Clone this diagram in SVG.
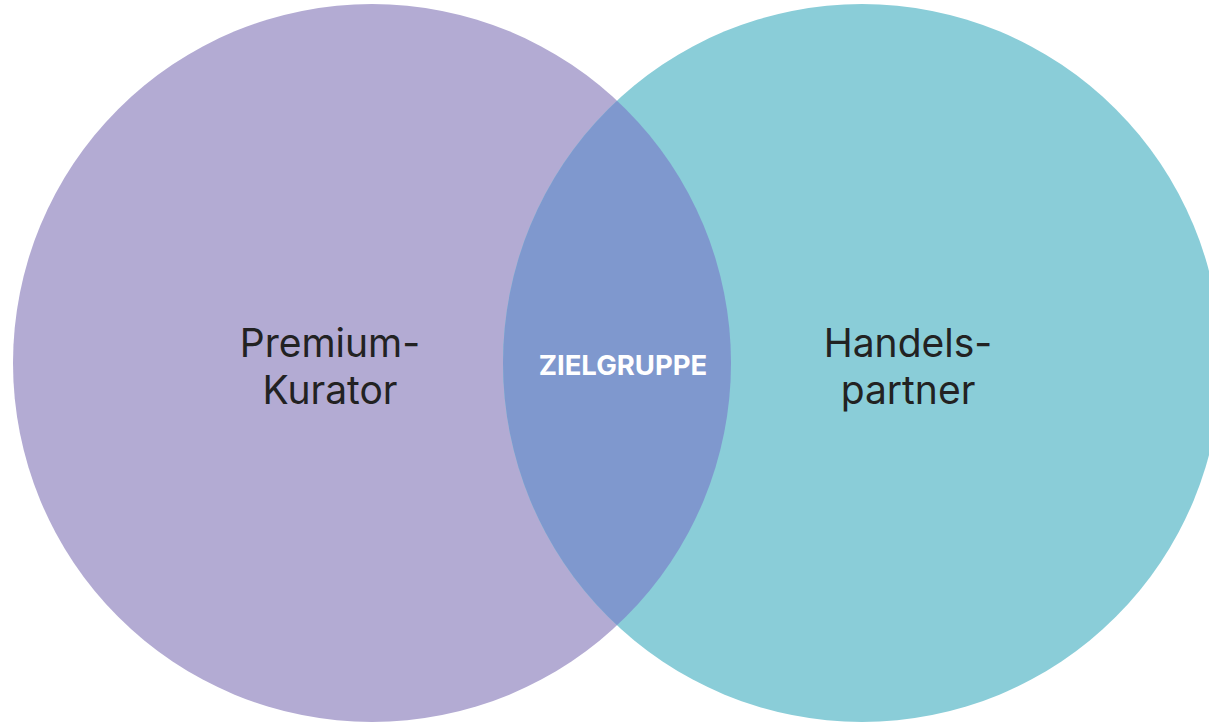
<svg xmlns="http://www.w3.org/2000/svg" width="1209" height="725" viewBox="0 0 1209 725">
<style>
.lbl{font-family:Inter,"Liberation Sans",sans-serif;font-size:39px;fill:#222;text-anchor:middle}
.mid{font-family:Inter,"Liberation Sans",sans-serif;font-size:27.5px;font-weight:700;fill:#fff;text-anchor:middle}
</style>
<defs>
<clipPath id="clipL"><circle cx="372" cy="363" r="359"/></clipPath>
</defs>
<rect width="1209" height="725" fill="#fff"/>
<g id="node-premium">
<circle cx="372" cy="363" r="359" fill="#B3ABD3"/>
<text class="lbl" x="330" y="357">Premium-</text>
<text class="lbl" x="330" y="404">Kurator</text>
</g>
<g id="node-handel">
<circle cx="862" cy="363" r="359" fill="#8ACDD8"/>
<text class="lbl" x="908" y="357">Handels-</text>
<text class="lbl" x="908" y="404">partner</text>
</g>
<g id="node-ziel">
<circle cx="862" cy="363" r="359" fill="#7F98CE" clip-path="url(#clipL)"/>
<text class="mid" x="623" y="375">ZIELGRUPPE</text>
</g>
<g id="connectors"/>
</svg>
